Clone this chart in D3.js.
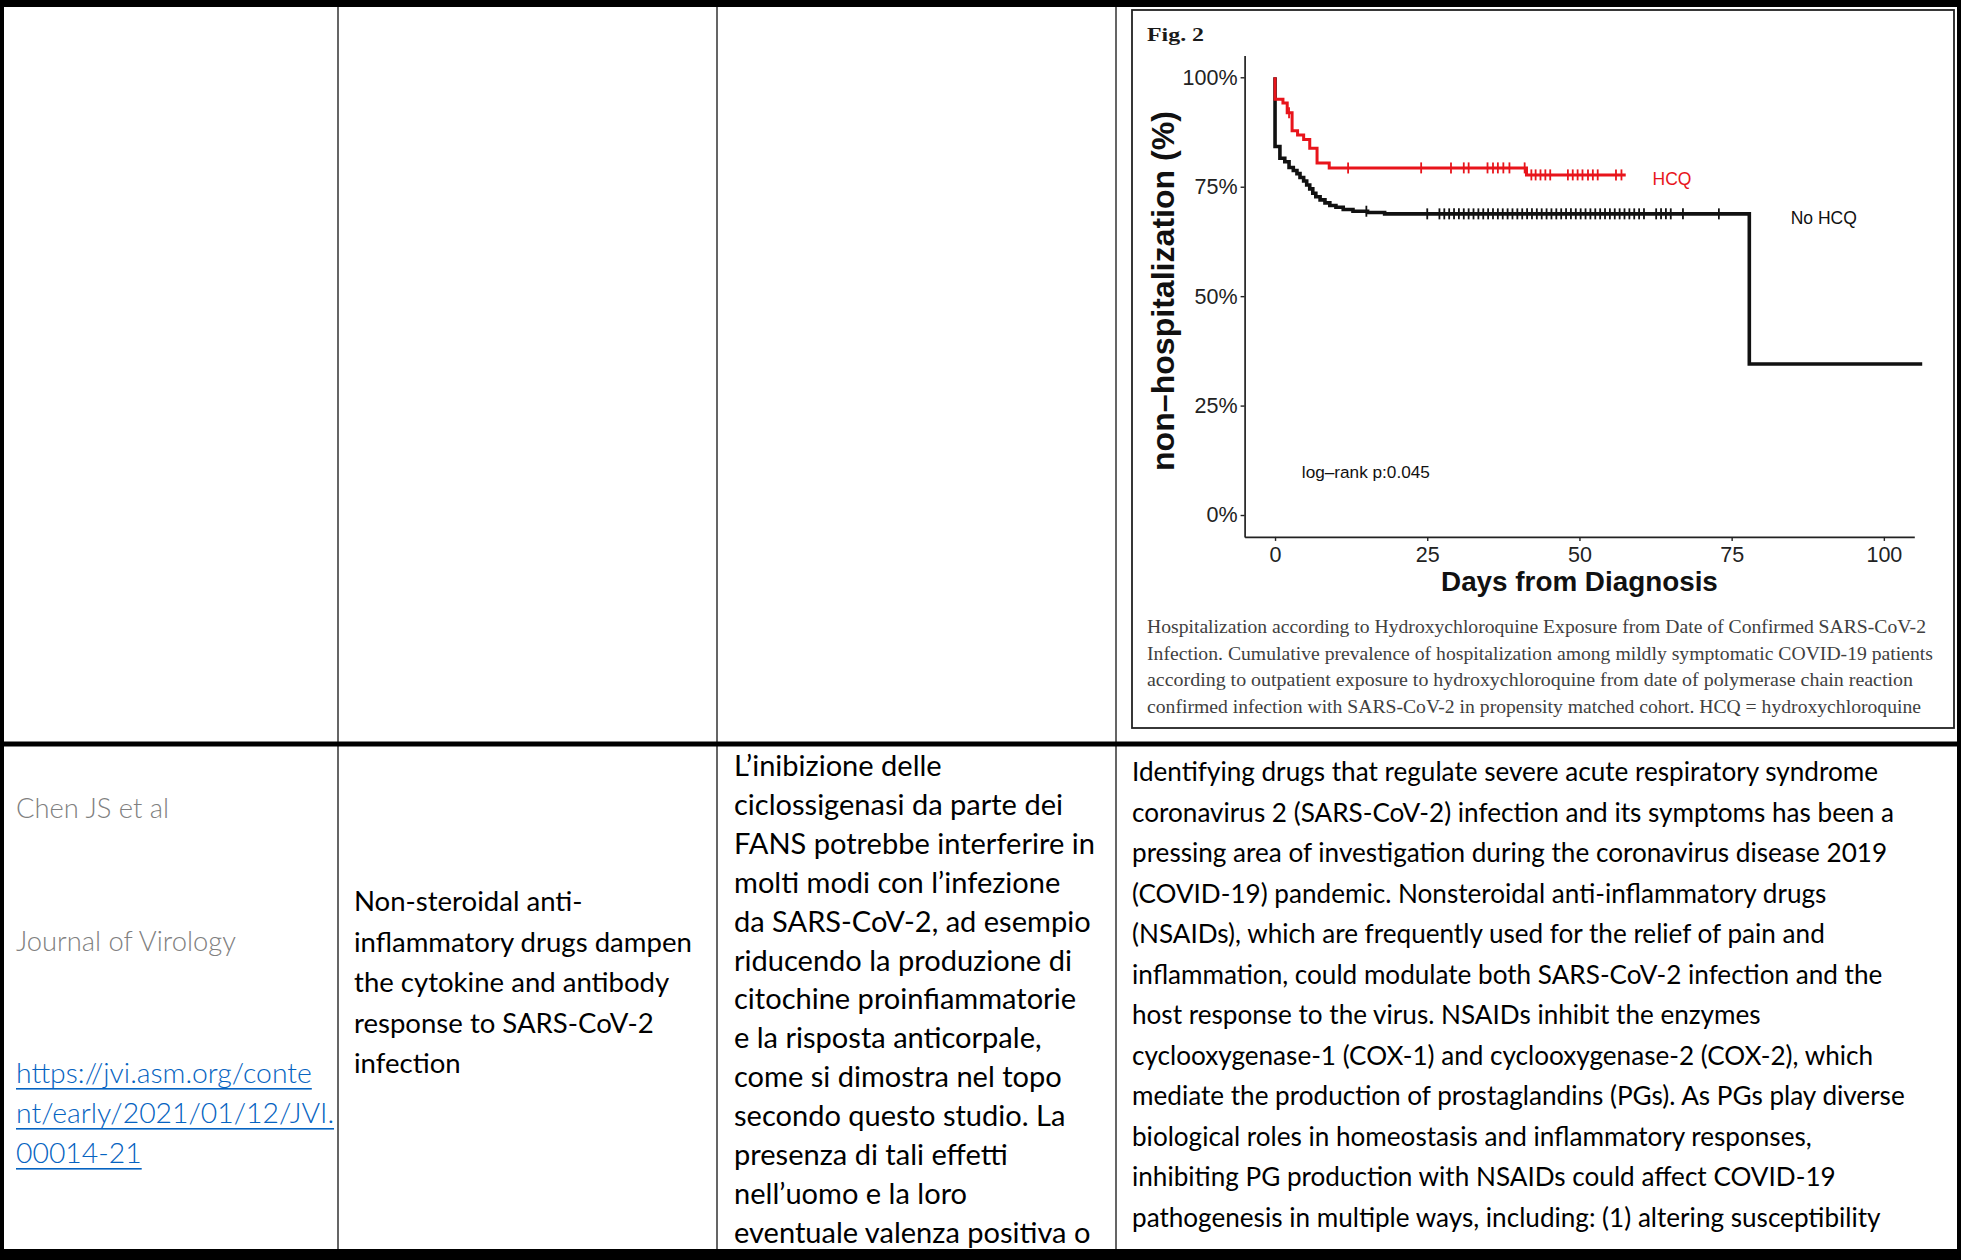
<!DOCTYPE html>
<html>
<head>
<meta charset="utf-8">
<script src="https://cdn.jsdelivr.net/npm/d3@7"></script>
<style>
  body { margin: 0; background: #fff; }
  svg { display: block; }
</style>
</head>
<body>
<svg id="page"></svg>
<script>
// Fig. 2 - Kaplan-Meier curves
const xTicks = [0, 25, 50, 75, 100];
const yTicks = [0, 25, 50, 75, 100];

// step curves: day of the step, % non-hospitalized after it
const noHcqDays = [0, 0, 0.8, 1.6, 2.3, 3.0, 3.6, 4.1, 4.7, 5.2, 5.7, 6.2, 6.7, 7.4, 8.2, 9.0, 10.0, 11.2, 12.8, 15.2, 18.0, 77.9, 106.3];
const noHcqSurv = [100, 84.2, 81.5, 80.7, 79.4, 78.7, 78.0, 77.1, 76.3, 75.4, 74.5, 73.5, 72.7, 72.0, 71.3, 70.7, 70.3, 69.8, 69.4, 69.1, 68.8, 34.5, 34.5];
const hcqDays = [0, 0, 1.3, 2.0, 2.8, 3.7, 4.7, 5.7, 6.9, 8.9, 41.3, 57.6];
const hcqSurv = [100, 95.0, 94.1, 91.9, 87.8, 86.8, 85.8, 83.8, 80.4, 79.3, 77.7, 77.7];

// censored patients (day)
const noHcqCensor = [15.0, 25.0, 27.0, 27.8, 28.6, 29.4, 30.2, 31.0, 31.8, 32.6, 33.4, 34.2, 35.0, 35.8,
  36.6, 37.4, 38.2, 39.0, 39.8, 40.6, 41.4, 42.2, 43.0, 43.8, 44.6, 45.4, 46.2, 47.0, 47.8, 48.6, 49.4,
  50.2, 51.0, 51.8, 52.6, 53.4, 54.2, 55.0, 55.8, 56.6, 57.4, 58.2, 59.0, 59.8, 60.6,
  62.6, 63.4, 64.2, 65.0, 67.0, 72.9];
const hcqCensor = [2.3, 12.0, 24.0, 28.9, 31.0, 31.8, 34.9, 35.8, 36.6, 37.5, 38.5, 41.0,
  42.1, 42.8, 43.6, 44.4, 45.2, 48.1, 48.9, 49.7, 50.5, 51.4, 52.2, 53.0, 56.0, 56.9];

const groupNames = ["No HCQ", "HCQ"];
const pValueText = "log–rank p:0.045";

// table text
const authorLines = ["Chen JS et al", "Journal of Virology"];
const linkLines = ["https://jvi.asm.org/conte", "nt/early/2021/01/12/JVI.", "00014-21"];
const titleLines = ["Non-steroidal anti-", "inflammatory drugs dampen", "the cytokine and antibody",
  "response to SARS-CoV-2", "infection"];
const commentLines = ["L’inibizione delle", "ciclossigenasi da parte dei", "FANS potrebbe interferire in",
  "molti modi con l’infezione", "da SARS-CoV-2, ad esempio", "riducendo la produzione di",
  "citochine proinfiammatorie", "e la risposta anticorpale,", "come si dimostra nel topo",
  "secondo questo studio. La", "presenza di tali effetti", "nell’uomo e la loro", "eventuale valenza positiva o"];
const abstractLines = ["Identifying drugs that regulate severe acute respiratory syndrome",
  "coronavirus 2 (SARS-CoV-2) infection and its symptoms has been a",
  "pressing area of investigation during the coronavirus disease 2019",
  "(COVID-19) pandemic. Nonsteroidal anti-inflammatory drugs",
  "(NSAIDs), which are frequently used for the relief of pain and",
  "inflammation, could modulate both SARS-CoV-2 infection and the",
  "host response to the virus. NSAIDs inhibit the enzymes",
  "cyclooxygenase-1 (COX-1) and cyclooxygenase-2 (COX-2), which",
  "mediate the production of prostaglandins (PGs). As PGs play diverse",
  "biological roles in homeostasis and inflammatory responses,",
  "inhibiting PG production with NSAIDs could affect COVID-19",
  "pathogenesis in multiple ways, including: (1) altering susceptibility"];
const captionLines = ["Hospitalization according to Hydroxychloroquine Exposure from Date of Confirmed SARS-CoV-2",
  "Infection. Cumulative prevalence of hospitalization among mildly symptomatic COVID-19 patients",
  "according to outpatient exposure to hydroxychloroquine from date of polymerase chain reaction",
  "confirmed infection with SARS-CoV-2 in propensity matched cohort. HCQ = hydroxychloroquine"];

const bodyFont = "Lato, 'Open Sans', sans-serif";
const plotFont = "'Liberation Sans', Arial, sans-serif";
const serifFont = "'Liberation Serif', 'DejaVu Serif', serif";

const svg = d3.select("#page").attr("width", 1961).attr("height", 1260);

// font size that makes a sample string a given width
function fitSize(family, weight, sample, width) {
  const t = svg.append("text").attr("font-family", family).attr("font-weight", weight)
    .attr("font-size", 100).text(sample);
  const w = t.node().getComputedTextLength();
  t.remove();
  return 100 * width / w;
}

// ---- table grid ----
const grid = svg.append("g").attr("fill", "#000");
[338, 717, 1116].forEach(cx => {
  grid.append("rect").attr("x", cx - 0.6).attr("y", 0).attr("width", 1.2).attr("height", 1260);
});
grid.append("rect").attr("x", 0).attr("y", 0).attr("width", 1961).attr("height", 7);
grid.append("rect").attr("x", 0).attr("y", 0).attr("width", 4).attr("height", 1260);
grid.append("rect").attr("x", 1957).attr("y", 0).attr("width", 4).attr("height", 1260);
grid.append("rect").attr("x", 0).attr("y", 741.5).attr("width", 1961).attr("height", 5);
grid.append("rect").attr("x", 0).attr("y", 1249).attr("width", 1961).attr("height", 11);

// ---- lower row text ----
function textBlock(lines, x0, y0, step, size, opts) {
  const g = svg.append("g")
    .attr("font-family", bodyFont)
    .attr("font-weight", opts.weight || 400)
    .attr("font-size", size)
    .attr("fill", opts.color || "#000");
  lines.forEach((s, i) => {
    const t = g.append("text").attr("x", x0).attr("y", y0 + i * step).text(s);
    if (opts.underline) {
      const w = t.node().getComputedTextLength();
      g.append("rect").attr("x", x0).attr("y", y0 + i * step + 5).attr("width", w).attr("height", 1.6);
    }
  });
}

const authorSize = fitSize(bodyFont, 300, authorLines[1], 220);
textBlock([authorLines[0]], 16, 818, 0, authorSize, { weight: 300, color: "#808080" });
textBlock([authorLines[1]], 16, 951, 0, authorSize, { weight: 300, color: "#808080" });
const linkSize = fitSize(bodyFont, 300, linkLines[0], 296);
textBlock(linkLines, 16, 1083, 40, linkSize, { weight: 300, color: "#0563c1", underline: true });

textBlock(titleLines, 354, 911, 40.5, fitSize(bodyFont, 400, titleLines[1], 338), {});
textBlock(commentLines, 734, 776, 38.9, fitSize(bodyFont, 400, commentLines[2], 361), {});
textBlock(abstractLines, 1132, 781, 40.5, fitSize(bodyFont, 400, abstractLines[8], 773), {});

// ---- figure box ----
svg.append("rect").attr("x", 1132).attr("y", 10).attr("width", 822).attr("height", 718)
  .attr("fill", "#fff").attr("stroke", "#222").attr("stroke-width", 1.8);

svg.append("text").attr("x", 1147).attr("y", 41)
  .attr("font-family", serifFont).attr("font-weight", 700).attr("font-size", 19)
  .attr("fill", "#1a1a1a").attr("textLength", 57).attr("lengthAdjust", "spacingAndGlyphs")
  .text("Fig. 2");

const captionWidths = [779, 786, 766, 774];
const caption = svg.append("g").attr("font-family", serifFont).attr("font-size", 18.5).attr("fill", "#404040");
captionLines.forEach((s, i) => {
  caption.append("text").attr("x", 1147).attr("y", 633 + i * 26.7)
    .attr("textLength", captionWidths[i]).attr("lengthAdjust", "spacingAndGlyphs").text(s);
});

// ---- Kaplan-Meier plot ----
const x = d3.scaleLinear().domain([-5, 105]).range([1244.6, 1914.3]);
const y = d3.scaleLinear().domain([-5, 105]).range([536.9, 55.4]);

const plot = svg.append("g");
const xAxis = plot.append("g").attr("transform", `translate(0,${y(-5)})`)
  .call(d3.axisBottom(x).tickValues(xTicks).tickSize(4).tickSizeOuter(0).tickPadding(6));
const yAxis = plot.append("g").attr("transform", `translate(${x(-5)},0)`)
  .call(d3.axisLeft(y).tickValues(yTicks).tickFormat(d => d + "%").tickSize(4).tickSizeOuter(0).tickPadding(3));
[xAxis, yAxis].forEach(g => {
  g.select(".domain").attr("stroke", "#222").attr("stroke-width", 1.7);
  g.selectAll(".tick line").attr("stroke", "#222").attr("stroke-width", 1.4);
  g.selectAll(".tick text").attr("font-family", plotFont).attr("font-size", 21.5).attr("fill", "#222");
});

plot.append("text")
  .attr("transform", `translate(1174,291) rotate(-90)`)
  .attr("text-anchor", "middle")
  .attr("font-family", plotFont).attr("font-weight", 700)
  .attr("font-size", fitSize(plotFont, 700, "non–hospitalization (%)", 360))
  .attr("fill", "#111")
  .text("non–hospitalization (%)");

plot.append("text")
  .attr("x", x(50)).attr("y", 591)
  .attr("text-anchor", "middle")
  .attr("font-family", plotFont).attr("font-weight", 700)
  .attr("font-size", fitSize(plotFont, 700, "Days from Diagnosis", 277))
  .attr("fill", "#111")
  .text("Days from Diagnosis");

const series = [
  { name: groupNames[0], days: noHcqDays, surv: noHcqSurv, censor: noHcqCensor, color: "#111", width: 3.6, label: [84.7, 66.4] },
  { name: groupNames[1], days: hcqDays, surv: hcqSurv, censor: hcqCensor, color: "#e8141b", width: 3.0, label: [62.0, 75.4] }
];

function survAt(s, t) {
  let v = s.surv[0];
  s.days.forEach((d, i) => { if (d <= t) v = s.surv[i]; });
  return v;
}

const line = d3.line().x(d => x(d[0])).y(d => y(d[1])).curve(d3.curveStepAfter);

series.forEach(s => {
  const pts = s.days.map((d, i) => [d, s.surv[i]]);
  plot.append("path").datum(pts).attr("d", line)
    .attr("fill", "none").attr("stroke", s.color).attr("stroke-width", s.width);
  plot.append("g").selectAll("line").data(s.censor).join("line")
    .attr("x1", d => x(d)).attr("x2", d => x(d))
    .attr("y1", d => y(survAt(s, d)) - 5.5).attr("y2", d => y(survAt(s, d)) + 5.5)
    .attr("stroke", s.color).attr("stroke-width", 1.8);
  plot.append("text")
    .attr("x", x(s.label[0])).attr("y", y(s.label[1]))
    .attr("font-family", plotFont).attr("font-size", 17.5).attr("fill", s.color)
    .text(s.name);
});

plot.append("text")
  .attr("x", x(4.4)).attr("y", y(8.5))
  .attr("font-family", plotFont).attr("font-size", 17.2).attr("fill", "#111")
  .text(pValueText);
</script>
</body>
</html>
